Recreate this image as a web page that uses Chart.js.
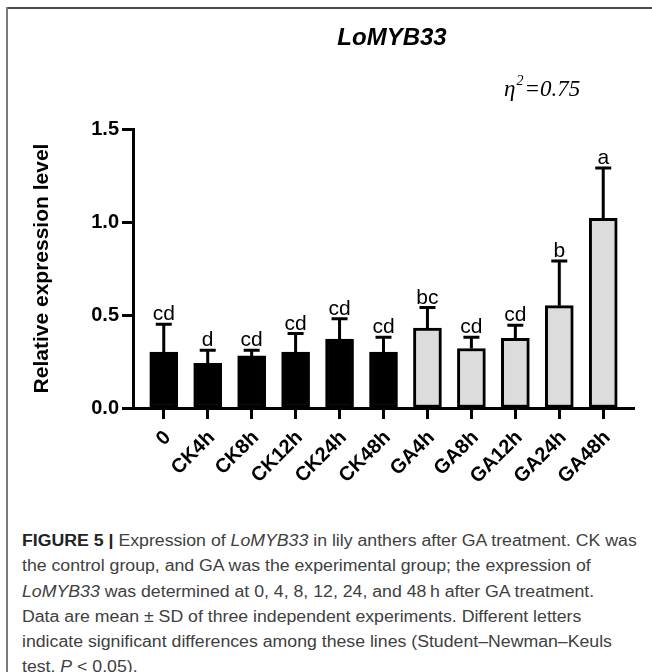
<!DOCTYPE html>
<html>
<head>
<meta charset="utf-8">
<script src="https://cdn.jsdelivr.net/npm/chart.js@4.4.1/dist/chart.umd.min.js"></script>
<style>
  html, body { margin: 0; padding: 0; background: #fff; }
  body { width: 652px; height: 672px; position: relative; overflow: hidden; }
  #frameTop { position: absolute; left: 7px; top: 7px; width: 645px; height: 0; border-top: 2px solid #4a4a4a; }
  #frameLeft { position: absolute; left: 6px; top: 7px; width: 0; height: 665px; border-left: 2px solid #7a7a7a; }
  #wrap { position: absolute; left: 0; top: 0; width: 652px; height: 505px; }
  #caption { position: absolute; left: 22px; top: 528px; font-family: "Liberation Sans", Arial, sans-serif; font-size: 16px; color: #404040; line-height: 25.3px; }
  #caption .ln { white-space: nowrap; transform-origin: 0 0; }
  #caption b { color: #222; }
</style>
</head>
<body>
<div id="frameTop"></div>
<div id="frameLeft"></div>
<div id="wrap"><canvas id="c" width="652" height="505"></canvas></div>
<div id="caption">
  <div class="ln"><b>FIGURE 5 |</b> Expression of <i>LoMYB33</i> in lily anthers after GA treatment. CK was</div>
  <div class="ln">the control group, and GA was the experimental group; the expression of</div>
  <div class="ln"><i>LoMYB33</i> was determined at 0, 4, 8, 12, 24, and 48&#8201;h after GA treatment.</div>
  <div class="ln">Data are mean &#177; SD of three independent experiments. Different letters</div>
  <div class="ln">indicate significant differences among these lines (Student&#8211;Newman&#8211;Keuls</div>
  <div class="ln">test, <i>P</i> &lt; 0.05).</div>
</div>
<script>
const categories = ['0', 'CK4h', 'CK8h', 'CK12h', 'CK24h', 'CK48h', 'GA4h', 'GA8h', 'GA12h', 'GA24h', 'GA48h'];
const meanValues = [0.30, 0.24, 0.28, 0.30, 0.37, 0.30, 0.43, 0.32, 0.375, 0.55, 1.02];
const sdValues = [0.15, 0.07, 0.03, 0.10, 0.11, 0.08, 0.11, 0.06, 0.07, 0.24, 0.27];
const letters = ['cd', 'd', 'cd', 'cd', 'cd', 'cd', 'bc', 'cd', 'cd', 'b', 'a'];
const yTicks = [0, 0.5, 1.0, 1.5];
const chartTitle = 'LoMYB33';
const etaValue = '0.75';
const yAxisTitle = 'Relative expression level';

// caption: condense lines to the reference width
(function () {
  const lines = document.querySelectorAll('#caption .ln');
  const w = lines[0].scrollWidth;
  const s = 615 / w;
  lines.forEach(l => { l.style.transform = 'scaleX(' + s + ')'; });
})();

const fillColors = categories.map(c => c.startsWith('GA') ? '#dcdcdc' : '#000000');

const extras = {
  id: 'extras',
  afterDatasetsDraw(chart) {
    const ctx = chart.ctx;
    const xs = chart.scales.x, ys = chart.scales.y;
    ctx.save();
    ctx.strokeStyle = '#000';
    ctx.lineWidth = 3;
    ctx.fillStyle = '#000';
    ctx.font = '21px "Liberation Sans", Arial, sans-serif';
    ctx.textAlign = 'center';
    ctx.textBaseline = 'alphabetic';
    meanValues.forEach((m, i) => {
      const x = xs.getPixelForValue(i);
      const y0 = ys.getPixelForValue(m);
      const y1 = ys.getPixelForValue(m + sdValues[i]);
      ctx.beginPath();
      ctx.moveTo(x, y0);
      ctx.lineTo(x, y1);
      ctx.moveTo(x - 8, y1);
      ctx.lineTo(x + 8, y1);
      ctx.stroke();
      ctx.fillText(letters[i], x, y1 - 4);
    });
    // title
    ctx.font = 'italic bold 24px "Liberation Sans", Arial, sans-serif';
    ctx.textBaseline = 'middle';
    ctx.fillText(chartTitle, 392, 38);
    // eta
    ctx.textAlign = 'left';
    ctx.textBaseline = 'alphabetic';
    let x = 504;
    const base = 96;
    ctx.font = 'italic 23px "Liberation Serif", "Times New Roman", serif';
    ctx.fillText('\u03B7', x, base);
    x += ctx.measureText('\u03B7').width;
    ctx.font = 'italic 14px "Liberation Serif", "Times New Roman", serif';
    ctx.fillText('2', x + 1, base - 11);
    x += ctx.measureText('2').width + 2;
    ctx.font = 'italic 23px "Liberation Serif", "Times New Roman", serif';
    ctx.fillText('=' + etaValue, x, base);
    ctx.restore();
  }
};

new Chart(document.getElementById('c'), {
  type: 'bar',
  data: {
    datasets: [{
      data: meanValues.map((v, i) => ({ x: i, y: v })),
      backgroundColor: fillColors,
      borderColor: '#000',
      borderWidth: 3,
      borderSkipped: false,
      barThickness: 28
    }]
  },
  options: {
    responsive: false,
    animation: false,
    events: [],
    layout: { padding: { left: 10, top: 129, right: 18, bottom: 0 } },
    plugins: { legend: { display: false }, tooltip: { enabled: false }, title: { display: false } },
    scales: {
      x: {
        type: 'linear',
        offset: false,
        min: -0.7,
        max: categories.length - 1 + 0.7,
        afterBuildTicks(scale) { scale.ticks = categories.map((c, i) => ({ value: i })); },
        afterFit(scale) { scale.height = 97; },
        grid: { offset: false, drawOnChartArea: false, drawTicks: true, tickLength: 11, tickWidth: 3, tickColor: '#000' },
        border: { display: true, color: '#000', width: 3 },
        ticks: {
          autoSkip: false,
          minRotation: 45, maxRotation: 45,
          padding: 7,
          labelOffset: 4,
          color: '#000',
          font: { family: '"Liberation Sans", Arial, sans-serif', size: 20, weight: 'bold' },
          callback: (v) => categories[v]
        }
      },
      y: {
        min: 0, max: 1.5,
        afterBuildTicks(scale) { scale.ticks = yTicks.map(v => ({ value: v })); },
        afterFit(scale) { scale.width = 123; },
        grid: { drawOnChartArea: false, drawTicks: true, tickLength: 11, tickWidth: 3, tickColor: '#000' },
        border: { display: true, color: '#000', width: 3 },
        ticks: {
          padding: 3,
          color: '#000',
          font: { family: '"Liberation Sans", Arial, sans-serif', size: 20, weight: 'bold' },
          callback: (v) => v.toFixed(1)
        },
        title: {
          display: true,
          text: yAxisTitle,
          color: '#000',
          padding: { top: 20, bottom: 0 },
          font: { family: '"Liberation Sans", Arial, sans-serif', size: 21, weight: 'bold' }
        }
      }
    }
  },
  plugins: [extras]
});
</script>
</body>
</html>
